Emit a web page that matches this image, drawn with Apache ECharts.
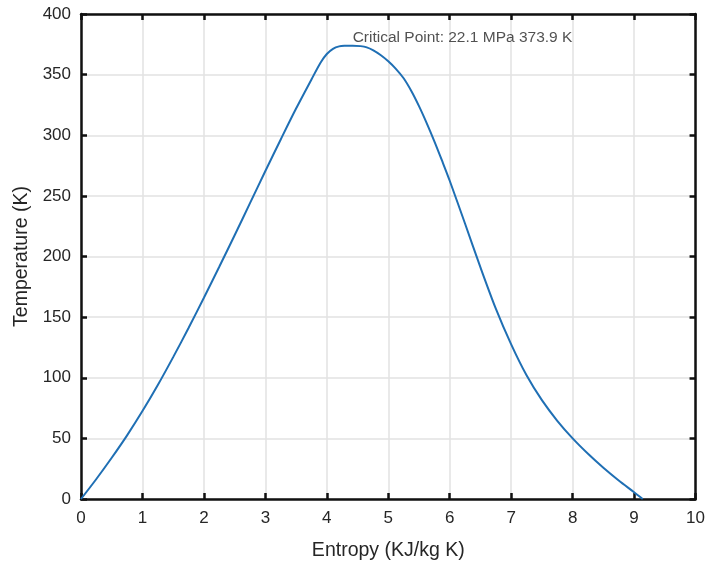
<!DOCTYPE html>
<html>
<head>
<meta charset="utf-8">
<script src="https://cdn.jsdelivr.net/npm/echarts@6/dist/echarts.min.js"></script>
<style>
html,body{margin:0;padding:0;background:#fff;}
#chart{width:708px;height:568px;}
</style>
</head>
<body>
<div id="chart"></div>
<script>
// Saturation dome: entropy (KJ/kg K) vs temperature (K)
const entropy = [0, 0.25, 0.5, 0.75, 1, 1.25, 1.5, 1.75, 2, 2.25, 2.5, 2.75, 3, 3.25, 3.5, 3.75, 3.9, 4.0, 4.1, 4.2, 4.3, 4.42, 4.55, 4.65, 4.75, 4.88, 5.0, 5.12, 5.25, 5.375, 5.5, 5.625, 5.75, 5.875, 6.0, 6.25, 6.5, 6.75, 7.0, 7.25, 7.5, 7.75, 8.0, 8.25, 8.5, 8.75, 9.0, 9.14];
const temperature = [0, 16.5, 34, 52.5, 72.5, 94, 117, 141, 166, 191.5, 217.5, 244, 270.5, 296.5, 322, 346, 360, 367, 371.3, 373.3, 373.8, 373.9, 373.5, 372.5, 370.2, 366, 361, 355, 347, 336.5, 324, 310, 295, 279, 262.5, 227, 191, 157, 127.5, 102, 81.5, 64.5, 50, 37.3, 25.8, 15.3, 5.6, 0];
const criticalPoint = [4.42, 373.9];
const criticalLabel = 'Critical Point: 22.1 MPa 373.9 K';
const xTicks = [0, 10, 1];
const yTicks = [0, 400, 50];

const FONT = '"Liberation Sans", Arial, Helvetica, sans-serif';
const TXT = '#262626';
const chart = echarts.init(document.getElementById('chart'), null, {renderer: 'canvas'});

const lineData = entropy.map((s, i) => [s, temperature[i]]);

function mkAxis(range, primary, pos, extra) {
  return Object.assign({
    type: 'value',
    position: pos,
    min: range[0], max: range[1], interval: range[2],
    axisLine: {show: true, onZero: false, lineStyle: {color: '#111', width: 2.5}},
    axisTick: {show: true, inside: true, length: 6, lineStyle: {color: '#111', width: 2.5}},
    axisLabel: {show: primary, color: TXT, fontSize: 17, fontFamily: FONT},
    splitLine: {show: primary, lineStyle: {color: '#e2e2e2', width: 1.5}}
  }, extra || {});
}

const option = {
  animation: false,
  backgroundColor: '#fff',
  grid: {left: 81, right: 11, top: 14, bottom: 69, containLabel: false},
  xAxis: [
    mkAxis(xTicks, true, 'bottom', {
      name: 'Entropy (KJ/kg K)', nameLocation: 'middle', nameGap: 42,
      nameTextStyle: {color: TXT, fontSize: 19.5, fontFamily: FONT},
      axisLabel: {show: true, color: TXT, fontSize: 17, fontFamily: FONT, margin: 11}
    }),
    mkAxis(xTicks, false, 'top')
  ],
  yAxis: [
    mkAxis(yTicks, true, 'left', {
      name: 'Temperature (K)', nameLocation: 'middle', nameGap: 45,
      nameTextStyle: {color: TXT, fontSize: 19.5, fontFamily: FONT},
      axisLabel: {show: true, color: TXT, fontSize: 17, fontFamily: FONT, margin: 10}
    }),
    mkAxis(yTicks, false, 'right')
  ],
  series: [
    {
      type: 'line',
      data: lineData,
      smooth: 0.3,
      showSymbol: false,
      symbol: 'none',
      lineStyle: {color: '#1f6fb4', width: 2},
      z: 3
    },
    {
      type: 'scatter',
      data: [criticalPoint],
      symbolSize: 0,
      silent: true,
      label: {
        show: true,
        formatter: criticalLabel,
        position: [0, 0],
        align: 'left',
        verticalAlign: 'bottom',
        offset: [0, 0],
        color: TXT,
        fontSize: 15.5,
        fontFamily: FONT
      },
      z: 4
    }
  ]
};
chart.setOption(option);
</script>
</body>
</html>
